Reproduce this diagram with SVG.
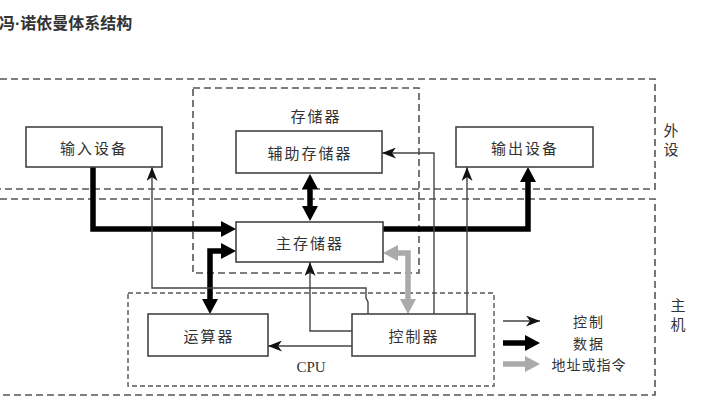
<svg xmlns="http://www.w3.org/2000/svg" width="725" height="408" viewBox="0 0 725 408">
<style>
text{font-family:"Noto Sans CJK SC","Noto Sans",sans-serif;fill:#333;}
.lbl{font-size:15px;letter-spacing:2px;text-anchor:middle;dominant-baseline:central;}
.side{font-size:15px;text-anchor:middle;dominant-baseline:central;}
.box{fill:#fff;stroke:#444;stroke-width:1.6;}
.dash{fill:none;stroke:#555;stroke-width:1.6;stroke-dasharray:7,4;}
.dash2{fill:none;stroke:#555;stroke-width:1.4;stroke-dasharray:5,3;}
.data{fill:none;stroke:#000;stroke-width:5.5;}
.addr{fill:none;stroke:#aaa;stroke-width:5.5;}
.ctrl{fill:none;stroke:#444;stroke-width:1.4;}
</style>
<defs>
<marker id="mData" markerUnits="userSpaceOnUse" markerWidth="15" markerHeight="16" refX="0" refY="8" orient="auto-start-reverse" viewBox="0 0 15 16">
<path d="M0,0 L15,8 L0,16 z" fill="#000"/>
</marker>
<marker id="mAddr" markerUnits="userSpaceOnUse" markerWidth="15" markerHeight="16" refX="0" refY="8" orient="auto-start-reverse" viewBox="0 0 15 16">
<path d="M0,0 L15,8 L0,16 z" fill="#aaa"/>
</marker>
<marker id="mCtrl" markerUnits="userSpaceOnUse" markerWidth="14" markerHeight="11" refX="14" refY="5.5" orient="auto" viewBox="0 0 14 11">
<path d="M0,0 L14,5.5 L0,11 L4,5.5 z" fill="#111"/>
</marker>
</defs>

<text x="-1" y="29" style="font-size:16px;font-weight:bold;">冯<tspan style="font-family:'Liberation Sans',sans-serif;">·</tspan>诺依曼体系结构</text>

<g id="groups">
<path class="dash" d="M0,79 H655 V189 H0"/>
<path class="dash" d="M0,199 H655 V395 H0"/>
<rect class="dash" x="193" y="88" width="226" height="185"/>
<rect class="dash2" x="128" y="293" width="366" height="93"/>
<text class="lbl" x="316" y="115">存储器</text>
<text x="311" y="367" style="font-family:'Liberation Serif',serif;font-size:15px;text-anchor:middle;dominant-baseline:central;">CPU</text>
<text class="side" x="671" y="129">外</text>
<text class="side" x="671" y="148">设</text>
<text class="side" x="678" y="304">主</text>
<text class="side" x="678" y="323">机</text>
</g>

<g id="connectors">
<path class="data" d="M93,167 V229 H221" marker-end="url(#mData)"/>
<path class="data" d="M310,189 V206" marker-start="url(#mData)" marker-end="url(#mData)"/>
<path class="data" d="M383,229 H528 V182" marker-end="url(#mData)"/>
<path class="data" d="M221,251 H210 V299" marker-start="url(#mData)" marker-end="url(#mData)"/>
<path class="addr" d="M398,253 H408 V299" marker-start="url(#mAddr)" marker-end="url(#mAddr)"/>
<path class="ctrl" d="M368,314 V302 L366,298 V288 H152 V167" marker-end="url(#mCtrl)"/>
<path class="ctrl" d="M352,331 H310 V262" marker-end="url(#mCtrl)"/>
<path class="ctrl" d="M352,346 H268" marker-end="url(#mCtrl)"/>
<path class="ctrl" d="M434,314 V153 H382" marker-end="url(#mCtrl)"/>
<path class="ctrl" d="M467,314 V167" marker-end="url(#mCtrl)"/>
</g>

<g id="input"><rect class="box" x="26" y="127" width="136" height="40"/><text class="lbl" x="94" y="147">输入设备</text></g>
<g id="aux"><rect class="box" x="236" y="131" width="146" height="42"/><text class="lbl" x="310" y="152">辅助存储器</text></g>
<g id="output"><rect class="box" x="456" y="127" width="137" height="40"/><text class="lbl" x="525" y="147">输出设备</text></g>
<g id="main"><rect class="box" x="236" y="222" width="147" height="40"/><text class="lbl" x="310" y="242">主存储器</text></g>
<g id="alu"><rect class="box" x="148" y="314" width="120" height="42"/><text class="lbl" x="209" y="335">运算器</text></g>
<g id="ctrlunit"><rect class="box" x="352" y="314" width="123" height="42"/><text class="lbl" x="414" y="335">控制器</text></g>

<g id="legend">
<path class="ctrl" d="M503,321 H540" marker-end="url(#mCtrl)"/>
<path class="data" d="M503,343 H525" marker-end="url(#mData)"/>
<path class="addr" d="M503,364 H525" marker-end="url(#mAddr)"/>
<text class="lbl" x="589" y="321" style="font-size:14px;">控制</text>
<text class="lbl" x="589" y="343" style="font-size:14px;">数据</text>
<text class="lbl" x="589" y="364" style="font-size:14px;letter-spacing:1px;">地址或指令</text>
</g>
</svg>
